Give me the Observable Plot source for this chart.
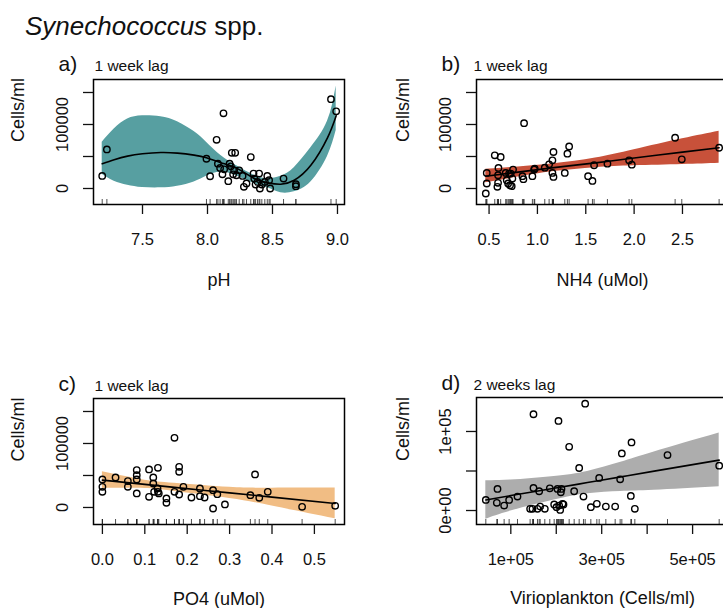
<!DOCTYPE html>
<html><head><meta charset="utf-8">
<script src="https://cdn.jsdelivr.net/npm/d3@7"></script>
<script src="https://cdn.jsdelivr.net/npm/@observablehq/plot@0.6"></script>
<style>
html,body{margin:0;padding:0;background:#fff;overflow:hidden;}
#fig{position:relative;width:723px;height:608px;overflow:hidden;font-family:"Liberation Sans",Arial,sans-serif;}
#title{position:absolute;left:25px;top:11px;font-size:26px;line-height:30px;color:#111;white-space:nowrap}
.panel{position:absolute}
</style></head><body>
<div id="fig"><div id="title"><i>Synechococcus</i> spp.</div></div>
<script>
// ---- Panel a: pH (1 week lag) ----
const phX = [7.19, 7.226, 7.992, 8.02, 8.07, 8.123, 8.08, 8.097, 8.115, 8.128, 8.16, 8.17, 8.18, 8.187, 8.213, 8.197, 8.205, 8.223, 8.244, 8.27, 8.28, 8.30, 8.333, 8.354, 8.36, 8.37, 8.385, 8.397, 8.403, 8.418, 8.441, 8.46, 8.474, 8.482, 8.585, 8.68, 8.68, 8.95, 8.99];
const phY = [19600, 61000, 46500, 19100, 76000, 117400, 38800, 32000, 22200, 30000, 11400, 38800, 34600, 55800, 55800, 22200, 28400, 20700, 28400, 19600, 2600, 7800, 49100, 23300, 15500, 6200, 10300, 23300, 0, 6200, 10300, 19600, 12900, 0, 15500, 6700, 3600, 139600, 120500];
const phFitX = [7.19, 7.282, 7.385, 7.5, 7.641, 7.769, 7.897, 7.992, 8.103, 8.231, 8.359, 8.462, 8.564, 8.667, 8.795, 8.923, 8.99];
const phFit  = [38800, 45000, 50600, 54300, 56300, 55300, 52200, 48100, 40300, 31000, 15500, 8800, 6700, 12900, 36200, 79100, 113700];
const phHi   = [72400, 93100, 108600, 113700, 112200, 104400, 88900, 72400, 51700, 34600, 20700, 15500, 19100, 32600, 63600, 105000, 160300];
const phLo   = [22200, 11400, 5200, 1600, 1000, 3600, 10300, 19100, 25900, 19100, 7800, 1000, -6700, -5200, 10300, 50100, 90500];

// ---- Panel b: NH4 (1 week lag) ----
const nh4X = [0.466, 0.476, 0.476, 0.559, 0.62, 0.586, 0.593, 0.593, 0.597, 0.672, 0.683, 0.697, 0.707, 0.717, 0.724, 0.734, 0.748, 0.741, 0.845, 0.855, 0.862, 0.948, 0.966, 0.972, 1.076, 1.121, 1.155, 1.166, 1.155, 1.166, 1.283, 1.31, 1.328, 1.524, 1.569, 1.586, 1.724, 1.948, 1.976, 2.424, 2.493, 2.879];
const nh4Y = [-7800, 7800, 24300, 51800, 49200, 2600, 8800, 20700, 32100, 24300, 13000, 7800, 23300, 5200, 23300, 3600, 29500, 15500, 19200, 14500, 102000, 19200, 29500, 31100, 32600, 37800, 44000, 57000, 24300, 18100, 24300, 54400, 65800, 19200, 11900, 36300, 38800, 44000, 37300, 79300, 45600, 63700];
const nh4FitX = [0.466, 0.8, 1.17, 1.6, 2.0, 2.5, 2.879];
const nh4Fit  = [19200, 25600, 32600, 40100, 47700, 56800, 63700];
const nh4Hi   = [30000, 33700, 38600, 47700, 60600, 77700, 89600];
const nh4Lo   = [8800, 17900, 26600, 32600, 35500, 37500, 39500];

// ---- Panel c: PO4 (1 week lag) ----
const po4X = [0, 0, 0, 0.031, 0.060, 0.060, 0.081, 0.081, 0.081, 0.081, 0.110, 0.110, 0.12, 0.12, 0.122, 0.13, 0.131, 0.131, 0.133, 0.151, 0.151, 0.170, 0.170, 0.181, 0.181, 0.181, 0.191, 0.210, 0.23, 0.23, 0.241, 0.261, 0.261, 0.271, 0.289, 0.349, 0.36, 0.37, 0.39, 0.471, 0.549];
const po4Y = [43800, 32300, 24500, 46900, 41200, 32300, 58400, 50500, 43800, 21900, 59400, 16700, 46900, 37500, 24500, 29700, 24500, 62000, 21900, 14100, 7300, 108900, 24500, 63600, 55700, 20300, 32300, 15600, 29700, 17700, 15600, 27100, -1600, 20800, 4700, 19300, 51600, 15100, 24500, 1000, 2600];
const po4FitX = [0, 0.1, 0.17, 0.3, 0.4, 0.549];
const po4Fit  = [42700, 36100, 31400, 22800, 16200, 6300];
const po4Hi   = [55700, 42600, 37900, 31500, 30200, 30300];
const po4Lo   = [29700, 29600, 24900, 14100, 2200, -17700];

// ---- Panel d: Virioplankton (2 weeks lag) ----
const virX = [45000, 69200, 70700, 85300, 96300, 114700, 142500, 147700, 149900, 149900, 158700, 162400, 164600, 174800, 185800, 195400, 200500, 202700, 204900, 206400, 208600, 210100, 211500, 213700, 215900, 228400, 239400, 250400, 259900, 263600, 276100, 289300, 294400, 309100, 329600, 340600, 344300, 364100, 365600, 372900, 444800, 558500];
const virY = [13400, 9700, 27300, 6300, 13400, 17600, 2100, 2100, 121800, 28600, 2100, 24400, 5000, 2100, 28100, 7600, 4200, 27300, 113400, 6300, 800, 23100, 27300, 8400, 7600, 80600, 24400, 53800, 17600, 135200, 4200, 8400, 41200, 5000, 5000, 39500, 72200, 18500, 86100, 2100, 70100, 56700];
const virFitX = [45000, 100000, 195400, 268700, 342100, 415500, 558500];
const virFit  = [13400, 18900, 28100, 35400, 42600, 49800, 63800];
const virHi   = [37800, 38500, 43000, 49500, 61000, 74000, 98000];
const virLo   = [-11000, -700, 13200, 21300, 24200, 25600, 30000];

// ---- tick values and labels ----
const phTicks = [7.5, 8.0, 8.5, 9.0];
const nh4Ticks = [0.5, 1.0, 1.5, 2.0, 2.5];
const po4Ticks = [0, 0.1, 0.2, 0.3, 0.4, 0.5];
const virTicks = [100000, 200000, 300000, 400000, 500000];
const virTickLabels = ["1e+05", "", "3e+05", "", "5e+05"];
const cellTicks = [0, 50000, 100000, 150000];
const cellTickLabels = ["0", "", "100000", ""];
const virCellTicks = [0, 50000, 100000];
const virCellTickLabels = ["0e+00", "", "1e+05"];

const FONT = '"Liberation Sans", Arial, sans-serif';

function panel(o) {
  const pts = o.xs.map((x, i) => ({x, y: o.ys[i]}));
  const fit = o.fx.map((x, i) => ({x, y: o.fy[i], lo: o.flo[i], hi: o.fhi[i]}));
  const boxH = o.height - o.mt - o.mb;
  const chart = Plot.plot({
    width: o.width, height: o.height,
    marginTop: o.mt, marginRight: o.mr, marginBottom: o.mb, marginLeft: o.ml,
    style: {fontFamily: FONT, fontSize: "16.5px", color: "#111", background: "transparent", overflow: "visible"},
    x: {domain: o.xdom},
    y: {domain: o.ydom},
    marks: [
      Plot.areaY(fit, {x: "x", y1: "lo", y2: "hi", fill: o.fill, curve: "natural"}),
      Plot.ruleX(o.xs, {x: d => d, insetTop: boxH - 5, stroke: "#222", strokeWidth: 0.8}),
      Plot.line(fit, {x: "x", y: "y", stroke: "#000", strokeWidth: 1.6, curve: "natural"}),
      Plot.dot(pts, {x: "x", y: "y", r: 3.2, stroke: "#000", strokeWidth: 1.4, fill: "none"}),
      Plot.frame({stroke: "#000", strokeWidth: 1.5}),
      Plot.axisX({ticks: o.xticks, tickSize: 10, tickPadding: 19, tickFormat: o.xfmt, label: null, fontSize: 16.5, strokeWidth: 1.3}),
      Plot.axisY({ticks: o.yticks, tickSize: 10, tickPadding: 21, tickRotate: -90, textAnchor: "middle", lineAnchor: "middle", tickFormat: o.yfmt, label: null, fontSize: 16.5, strokeWidth: 1.3}),
      Plot.text([o.xlabel], {text: d => d, frameAnchor: "bottom", dy: o.xlabDy, fontSize: 18, lineAnchor: "middle"}),
      Plot.text(["Cells/ml"], {text: d => d, frameAnchor: "left", dx: o.ylabDx, rotate: -90, fontSize: 18, lineAnchor: "middle"}),
      Plot.text([o.letter], {text: d => d, frameAnchor: "top-left", dx: o.letDx, dy: o.letDy, textAnchor: "start", lineAnchor: "bottom", fontSize: 21}),
      Plot.text([o.lag], {text: d => d, frameAnchor: "top-left", dx: o.lagDx, dy: o.letDy, textAnchor: "start", lineAnchor: "bottom", fontSize: 15.5})
    ]
  });
  chart.classList.add("panel");
  chart.style.left = o.left + "px";
  chart.style.top = o.top + "px";
  document.getElementById("fig").appendChild(chart);
}

const fmt1 = d => d.toFixed(1);
const cellFmt = (d, i) => cellTickLabels[cellTicks.indexOf(d)];

panel({left: 0, top: 40, width: 362, height: 260, mt: 39, mr: 18, mb: 96, ml: 93,
  xdom: [7.123, 9.054], ydom: [-25000, 170300], xticks: phTicks, xfmt: fmt1,
  yticks: cellTicks, yfmt: cellFmt, xs: phX, ys: phY, fx: phFitX, fy: phFit, flo: phLo, fhi: phHi,
  fill: "#579fa1", letter: "a)", lag: "1 week lag", xlabel: "pH", xlabDy: 76, ylabDx: -75, letDx: -35, lagDx: 1, letDy: -9});

panel({left: 362, top: 40, width: 380, height: 260, mt: 39, mr: 14, mb: 96, ml: 114,
  xdom: [0.37, 2.976], ydom: [-25000, 170300], xticks: nh4Ticks, xfmt: fmt1,
  yticks: cellTicks, yfmt: cellFmt, xs: nh4X, ys: nh4Y, fx: nh4FitX, fy: nh4Fit, flo: nh4Lo, fhi: nh4Hi,
  fill: "#c8513a", letter: "b)", lag: "1 week lag", xlabel: "NH4 (uMol)", xlabDy: 76, ylabDx: -73, letDx: -35, lagDx: -3, letDy: -9});

panel({left: 0, top: 358, width: 362, height: 250, mt: 40, mr: 18, mb: 84, ml: 93,
  xdom: [-0.021, 0.571], ydom: [-26600, 170300], xticks: po4Ticks, xfmt: fmt1,
  yticks: cellTicks, yfmt: cellFmt, xs: po4X, ys: po4Y, fx: po4FitX, fy: po4Fit, flo: po4Lo, fhi: po4Hi,
  fill: "#f1bd84", letter: "c)", lag: "1 week lag", xlabel: "PO4 (uMol)", xlabDy: 75, ylabDx: -75, letDx: -35, lagDx: 1, letDy: -8});

panel({left: 362, top: 358, width: 380, height: 250, mt: 39, mr: 14, mb: 84, ml: 114,
  xdom: [24500, 579000], ydom: [-17700, 143000], xticks: virTicks, xfmt: d => virTickLabels[virTicks.indexOf(d)],
  yticks: virCellTicks, yfmt: d => virCellTickLabels[virCellTicks.indexOf(d)], xs: virX, ys: virY, fx: virFitX, fy: virFit, flo: virLo, fhi: virHi,
  fill: "#adadad", letter: "d)", lag: "2 weeks lag", xlabel: "Virioplankton (Cells/ml)", xlabDy: 74, ylabDx: -73, letDx: -35, lagDx: -3, letDy: -8});
</script>
</body></html>
